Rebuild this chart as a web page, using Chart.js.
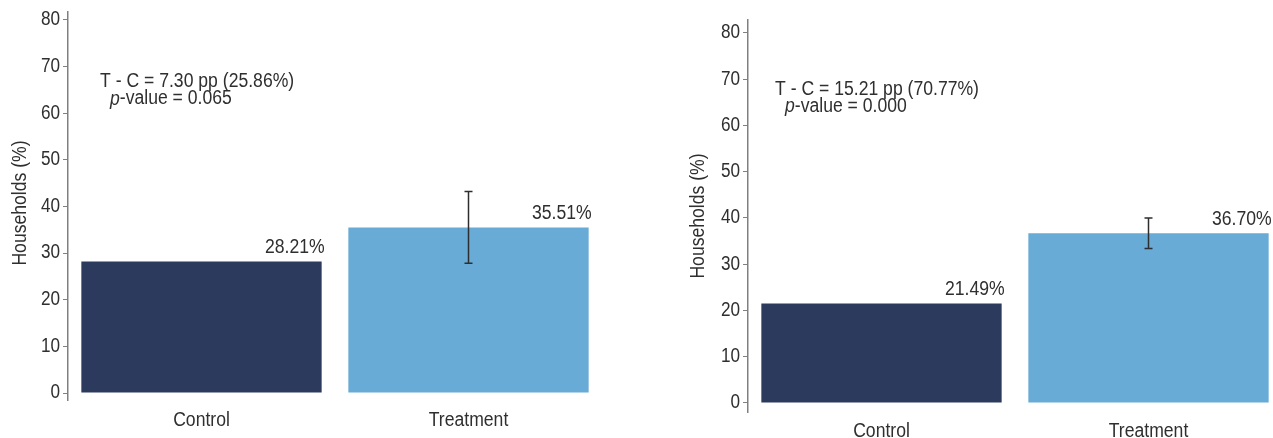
<!DOCTYPE html>
<html>
<head>
<meta charset="utf-8">
<script src="https://cdn.jsdelivr.net/npm/chart.js@4.4.1/dist/chart.umd.min.js"></script>
<style>
  html, body { margin:0; padding:0; background:#fff; width:1273px; height:438px; overflow:hidden; position:relative; }
  canvas { position:absolute; top:0; }
  #c1 { left:0; }
  #c2 { left:676px; }
</style>
</head>
<body>
<canvas id="c1" width="610" height="438"></canvas>
<canvas id="c2" width="610" height="438"></canvas>
<script>
// ---- data ----
const categories = ['Control', 'Treatment'];
const yTicks = [0, 10, 20, 30, 40, 50, 60, 70, 80];
const yTitle = 'Households (%)';

const leftValues = [28.21, 35.51];
const leftErrLow = [null, 27.8];
const leftErrHigh = [null, 43.2];
const leftDiff = 'T - C = 7.30 pp (25.86%)';
const leftP = '0.065';

const rightValues = [21.49, 36.70];
const rightErrLow = [null, 33.4];
const rightErrHigh = [null, 40.0];
const rightDiff = 'T - C = 15.21 pp (70.77%)';
const rightP = '0.000';

const barColors = ['#2c3a5e', '#67abd6'];
const FAM = "'Liberation Sans', Arial, Helvetica, sans-serif";
const TXT = '#2f2f2f';
const SX = 0.88; // narrow (condensed) look of the original text

function txt(ctx, s, x, y, align, size, opt) {
  opt = opt || {};
  ctx.save();
  ctx.translate(x, y);
  if (opt.rotate) ctx.rotate(opt.rotate);
  ctx.scale(SX, 1);
  ctx.font = (opt.italic ? 'italic ' : '') + size + 'px ' + FAM;
  ctx.textAlign = align;
  ctx.textBaseline = 'middle';
  ctx.fillStyle = TXT;
  ctx.fillText(s, 0, 0);
  const w = ctx.measureText(s).width * SX;
  ctx.restore();
  return w;
}

const overlayPlugin = {
  id: 'overlay',
  afterDatasetsDraw(chart, args, opts) {
    const ctx = chart.ctx;
    const ys = chart.scales.y;
    const ca = chart.chartArea;
    const meta = chart.getDatasetMeta(0);
    ctx.save();
    // error bars
    ctx.strokeStyle = '#2e2e2e';
    ctx.lineWidth = 1.5;
    opts.low.forEach((lo, i) => {
      const hi = opts.high[i];
      if (lo == null || hi == null) return;
      const x = meta.data[i].x;
      const yl = ys.getPixelForValue(lo), yh = ys.getPixelForValue(hi);
      ctx.beginPath();
      ctx.moveTo(x, yl); ctx.lineTo(x, yh);
      ctx.moveTo(x - 4, yl); ctx.lineTo(x + 4, yl);
      ctx.moveTo(x - 4, yh); ctx.lineTo(x + 4, yh);
      ctx.stroke();
    });
    ctx.restore();
    // value labels
    meta.data.forEach((bar, i) => {
      const v = chart.data.datasets[0].data[i];
      const right = bar.x + bar.width / 2;
      txt(ctx, v.toFixed(2) + '%', right + 3, bar.y - 14, 'right', 20);
    });
    // x category labels
    meta.data.forEach((bar, i) => {
      txt(ctx, chart.data.labels[i], bar.x, ca.bottom + opts.xlab, 'center', 20);
    });
    // y tick labels
    yTicks.forEach(v => {
      txt(ctx, String(v), ca.left - 8, ys.getPixelForValue(v), 'right', 19.5);
    });
    // y title
    txt(ctx, yTitle, opts.titleX, (ca.top + ca.bottom) / 2 - opts.titleUp, 'center', 20, { rotate: -Math.PI / 2 });
    // annotation
    const ax = ca.left + opts.dx;
    const ay = ys.getPixelForValue(opts.atValue);
    txt(ctx, opts.diff, ax, ay, 'left', 20);
    const px = ax + 10;
    const pw = txt(ctx, 'p', px, ay + 17, 'left', 20, { italic: true });
    txt(ctx, '-value = ' + opts.p, px + pw, ay + 17, 'left', 20);
  }
};

function makeChart(id, values, lo, hi, diff, p, cfg) {
  return new Chart(document.getElementById(id), {
    type: 'bar',
    data: {
      labels: categories,
      datasets: [{ data: values, backgroundColor: barColors, borderWidth: 0,
        barPercentage: 0.9, categoryPercentage: 1.0 }]
    },
    options: {
      responsive: false,
      animation: false,
      layout: { padding: { top: cfg.top, right: cfg.right, left: 0, bottom: 0 } },
      plugins: {
        legend: { display: false },
        tooltip: { enabled: false },
        overlay: { low: lo, high: hi, diff: diff, p: p, dx: cfg.dx, atValue: cfg.atValue,
          xlab: cfg.xlab, titleX: cfg.titleX, titleUp: cfg.titleUp }
      },
      scales: {
        x: {
          grid: { display: false, drawTicks: false },
          border: { display: false },
          ticks: { display: false },
          afterFit(s) { s.height = cfg.xh; }
        },
        y: {
          min: cfg.min, max: cfg.max,
          afterBuildTicks(s) { s.ticks = yTicks.map(v => ({ value: v })); },
          afterFit(s) { s.width = cfg.yw; },
          grid: { drawOnChartArea: false, drawTicks: true, tickLength: 5, color: '#808080', lineWidth: 1 },
          border: { display: true, color: '#808080', width: 1.5 },
          ticks: { display: false }
        }
      }
    },
    plugins: [overlayPlugin]
  });
}

makeChart('c1', leftValues, leftErrLow, leftErrHigh, leftDiff, leftP,
  { top: 12, right: 8, xh: 38, yw: 68, min: -1.5, max: 81.7, dx: 32, atValue: 66.7,
    xlab: 20, titleX: 20, titleUp: 3 });
makeChart('c2', rightValues, rightErrLow, rightErrHigh, rightDiff, rightP,
  { top: 20, right: 4, xh: 26, yw: 72, min: -1.95, max: 82.8, dx: 27, atValue: 67.7,
    xlab: 19, titleX: 22, titleUp: 0 });
</script>
</body>
</html>
